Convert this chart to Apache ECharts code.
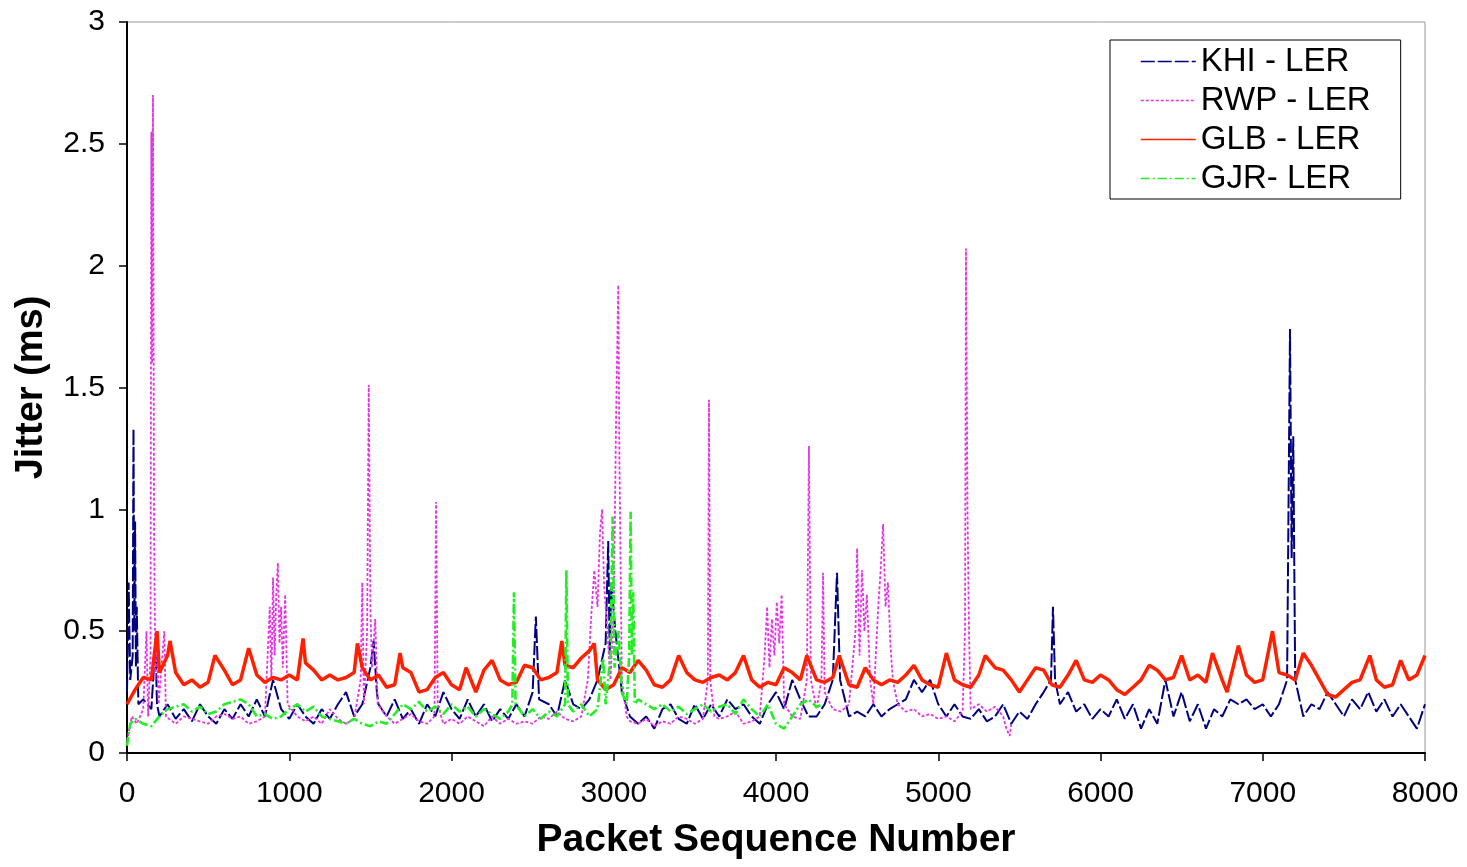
<!DOCTYPE html>
<html>
<head>
<meta charset="utf-8">
<title>Jitter</title>
<script src="https://cdn.jsdelivr.net/npm/echarts@6/dist/echarts.min.js"></script>
<style>
  html, body { margin: 0; padding: 0; background: #fff; }
  #chart { width: 1467px; height: 867px; }
</style>
</head>
<body>
<div id="chart"></div>
<script>
// [packet sequence number, jitter ms]
const khiData = [
  [0,0.25],[10,0.7],[20,0.3],[35,0.4],[40,1.33],[45,0.5],[50,0.95],[55,0.35],[60,0.6],[70,0.2],
  [100,0.22],[150,0.18],[175,0.45],[185,0.2],[200,0.15],[250,0.2],[300,0.14],[350,0.18],[400,0.13],
  [450,0.2],[500,0.15],[550,0.12],[600,0.18],[650,0.14],[700,0.2],[750,0.15],[800,0.22],[850,0.15],
  [900,0.3],[950,0.18],[1000,0.14],[1050,0.2],[1100,0.15],[1150,0.12],[1200,0.18],[1250,0.14],
  [1300,0.2],[1350,0.25],[1400,0.15],[1450,0.2],[1500,0.35],[1520,0.46],[1540,0.25],[1550,0.2],
  [1600,0.15],[1650,0.22],[1700,0.14],[1750,0.18],[1800,0.12],[1850,0.2],[1900,0.15],[1950,0.25],
  [2000,0.18],[2050,0.14],[2100,0.22],[2150,0.15],[2200,0.2],[2250,0.13],[2300,0.18],[2350,0.14],
  [2400,0.2],[2450,0.15],[2500,0.25],[2520,0.56],[2540,0.22],[2600,0.2],[2650,0.15],[2700,0.3],
  [2750,0.2],[2800,0.18],[2850,0.22],[2900,0.3],[2950,0.45],[2966,0.87],[2975,0.4],[2985,0.7],
  [3010,0.5],[3050,0.25],[3100,0.15],[3150,0.12],[3200,0.15],[3250,0.1],[3300,0.18],[3350,0.2],
  [3400,0.14],[3450,0.12],[3500,0.2],[3550,0.14],[3600,0.2],[3650,0.15],[3700,0.22],[3750,0.18],
  [3800,0.2],[3850,0.15],[3900,0.12],[3950,0.2],[4000,0.25],[4050,0.18],[4100,0.3],[4150,0.22],
  [4200,0.15],[4250,0.15],[4300,0.2],[4350,0.3],[4376,0.74],[4395,0.3],[4450,0.15],[4500,0.17],
  [4550,0.15],[4600,0.2],[4650,0.15],[4700,0.18],[4750,0.2],[4800,0.22],[4850,0.3],[4900,0.25],
  [4950,0.3],[5000,0.2],[5050,0.15],[5100,0.2],[5150,0.15],[5200,0.14],[5250,0.18],[5300,0.13],
  [5350,0.15],[5400,0.2],[5450,0.12],[5500,0.17],[5550,0.14],[5600,0.2],[5650,0.25],[5695,0.3],
  [5707,0.6],[5720,0.3],[5750,0.2],[5800,0.25],[5850,0.17],[5900,0.2],[5950,0.14],[6000,0.18],
  [6050,0.15],[6100,0.22],[6150,0.14],[6200,0.2],[6250,0.1],[6300,0.18],[6350,0.12],[6400,0.3],
  [6450,0.15],[6500,0.25],[6550,0.13],[6600,0.2],[6650,0.1],[6700,0.18],[6750,0.15],[6800,0.22],
  [6850,0.2],[6900,0.22],[6950,0.18],[7000,0.2],[7050,0.15],[7100,0.2],[7150,0.3],[7168,1.74],
  [7178,0.8],[7188,1.3],[7200,0.3],[7250,0.15],[7300,0.2],[7350,0.18],[7400,0.25],[7450,0.2],
  [7500,0.15],[7550,0.22],[7600,0.18],[7650,0.25],[7700,0.17],[7750,0.22],[7800,0.15],[7850,0.2],
  [7900,0.15],[7950,0.1],[8000,0.2]
];

const rwpData = [
  [0,0.05],[30,0.15],[60,0.12],[100,0.18],[120,0.5],[130,0.15],[145,0.4],[150,2.55],[155,1.6],
  [160,2.7],[167,0.9],[175,0.3],[185,0.5],[195,0.2],[230,0.5],[240,0.15],[300,0.12],[350,0.15],
  [400,0.14],[450,0.13],[500,0.12],[550,0.15],[600,0.16],[650,0.14],[700,0.15],[750,0.12],
  [800,0.13],[850,0.15],[880,0.6],[890,0.3],[900,0.72],[910,0.4],[920,0.65],[930,0.78],[940,0.45],
  [950,0.6],[960,0.35],[975,0.65],[990,0.2],[1050,0.15],[1100,0.13],[1150,0.15],[1200,0.12],
  [1250,0.18],[1300,0.14],[1350,0.12],[1400,0.14],[1440,0.3],[1450,0.7],[1460,0.2],[1480,0.5],
  [1490,1.51],[1500,0.6],[1510,0.35],[1530,0.55],[1545,0.2],[1600,0.15],[1650,0.12],[1700,0.14],
  [1750,0.16],[1800,0.13],[1850,0.12],[1895,0.15],[1905,1.03],[1915,0.2],[1950,0.12],[2000,0.14],
  [2050,0.12],[2100,0.15],[2150,0.13],[2200,0.11],[2250,0.15],[2300,0.12],[2350,0.14],[2400,0.12],
  [2450,0.13],[2500,0.12],[2550,0.15],[2600,0.14],[2650,0.17],[2700,0.14],[2750,0.13],[2800,0.15],
  [2840,0.3],[2860,0.55],[2880,0.75],[2900,0.6],[2915,0.9],[2928,1.0],[2940,0.7],[2960,0.5],
  [2980,0.3],[3000,0.6],[3015,1.4],[3028,1.92],[3035,1.2],[3050,0.3],[3080,0.15],[3100,0.13],
  [3150,0.12],[3200,0.14],[3250,0.11],[3300,0.13],[3350,0.12],[3400,0.15],[3450,0.14],[3500,0.12],
  [3550,0.14],[3580,0.3],[3587,1.45],[3595,0.3],[3620,0.15],[3650,0.14],[3700,0.15],[3750,0.17],
  [3800,0.12],[3850,0.13],[3900,0.15],[3930,0.4],[3945,0.6],[3960,0.35],[3975,0.55],[3990,0.4],
  [4005,0.62],[4020,0.45],[4035,0.65],[4050,0.2],[4100,0.15],[4150,0.14],[4190,0.3],[4203,1.26],
  [4215,0.3],[4250,0.18],[4280,0.3],[4290,0.74],[4300,0.25],[4350,0.18],[4400,0.17],[4450,0.2],
  [4490,0.5],[4500,0.84],[4515,0.4],[4530,0.75],[4545,0.5],[4560,0.65],[4580,0.3],[4600,0.2],
  [4630,0.6],[4645,0.75],[4660,0.94],[4675,0.6],[4690,0.7],[4705,0.45],[4720,0.3],[4750,0.2],
  [4800,0.17],[4850,0.18],[4900,0.15],[4950,0.16],[5000,0.14],[5050,0.15],[5100,0.13],[5150,0.17],
  [5165,0.5],[5171,2.07],[5180,1.0],[5190,0.48],[5200,0.18],[5250,0.2],[5300,0.17],[5350,0.19],
  [5400,0.15],[5420,0.1],[5440,0.07],[5450,0.12]
];

const glbData = [
  [0,0.2],[50,0.26],[100,0.31],[150,0.3],[185,0.5],[200,0.33],[250,0.4],[265,0.46],[300,0.33],
  [350,0.28],[400,0.3],[450,0.27],[500,0.29],[542,0.4],[600,0.34],[650,0.28],[700,0.3],[750,0.43],
  [800,0.32],[850,0.29],[900,0.31],[950,0.3],[1000,0.32],[1050,0.3],[1085,0.47],[1100,0.37],
  [1150,0.34],[1200,0.3],[1250,0.32],[1300,0.3],[1350,0.31],[1400,0.33],[1420,0.45],[1450,0.35],
  [1500,0.3],[1550,0.32],[1600,0.27],[1650,0.28],[1683,0.41],[1700,0.35],[1750,0.33],[1800,0.25],
  [1850,0.26],[1900,0.31],[1950,0.33],[2000,0.28],[2050,0.26],[2090,0.35],[2150,0.25],[2200,0.34],
  [2250,0.38],[2300,0.3],[2350,0.28],[2400,0.29],[2450,0.36],[2500,0.35],[2550,0.3],[2600,0.31],
  [2650,0.33],[2680,0.46],[2700,0.36],[2750,0.35],[2800,0.39],[2850,0.42],[2880,0.45],[2900,0.3],
  [2950,0.26],[3000,0.28],[3050,0.35],[3100,0.33],[3150,0.38],[3200,0.34],[3250,0.28],[3300,0.27],
  [3350,0.3],[3400,0.4],[3450,0.33],[3500,0.3],[3550,0.29],[3600,0.31],[3650,0.32],[3700,0.3],
  [3750,0.33],[3800,0.4],[3850,0.3],[3900,0.27],[3950,0.29],[4000,0.28],[4050,0.35],[4100,0.33],
  [4150,0.3],[4190,0.4],[4250,0.3],[4300,0.29],[4350,0.31],[4390,0.4],[4450,0.28],[4500,0.27],
  [4550,0.35],[4600,0.3],[4650,0.28],[4700,0.3],[4750,0.29],[4800,0.32],[4850,0.36],[4900,0.3],
  [4950,0.28],[5000,0.27],[5050,0.41],[5100,0.3],[5150,0.28],[5200,0.27],[5250,0.32],[5290,0.4],
  [5350,0.35],[5400,0.34],[5450,0.3],[5500,0.25],[5550,0.3],[5600,0.35],[5650,0.34],[5700,0.28],
  [5750,0.27],[5800,0.32],[5850,0.38],[5900,0.3],[5950,0.29],[6000,0.32],[6050,0.3],[6100,0.26],
  [6150,0.24],[6200,0.27],[6250,0.3],[6300,0.36],[6350,0.34],[6400,0.3],[6450,0.31],[6500,0.4],
  [6550,0.3],[6600,0.32],[6650,0.29],[6690,0.41],[6750,0.3],[6780,0.25],[6850,0.44],[6900,0.32],
  [6950,0.29],[7000,0.3],[7060,0.5],[7100,0.33],[7150,0.32],[7200,0.3],[7250,0.41],[7300,0.36],
  [7350,0.3],[7400,0.24],[7450,0.23],[7500,0.26],[7550,0.29],[7600,0.3],[7660,0.4],[7700,0.3],
  [7750,0.27],[7800,0.28],[7850,0.38],[7900,0.3],[7950,0.32],[8000,0.4]
];

const gjrData = [
  [0,0.03],[20,0.12],[50,0.14],[100,0.12],[150,0.11],[200,0.15],[250,0.18],[300,0.19],[350,0.2],
  [400,0.17],[450,0.19],[500,0.16],[550,0.17],[600,0.2],[650,0.21],[700,0.22],[750,0.2],[800,0.15],
  [850,0.16],[900,0.14],[950,0.15],[1000,0.18],[1050,0.2],[1100,0.17],[1150,0.19],[1200,0.15],
  [1250,0.14],[1300,0.13],[1350,0.12],[1400,0.14],[1450,0.12],[1500,0.11],[1550,0.13],[1600,0.12],
  [1650,0.16],[1700,0.2],[1750,0.18],[1800,0.21],[1850,0.17],[1900,0.19],[1950,0.16],[2000,0.2],
  [2050,0.17],[2100,0.19],[2150,0.15],[2200,0.18],[2250,0.16],[2300,0.14],[2350,0.17],[2375,0.2],
  [2385,0.66],[2395,0.2],[2450,0.15],[2500,0.18],[2550,0.14],[2600,0.17],[2650,0.15],[2700,0.2],
  [2708,0.75],[2718,0.2],[2750,0.17],[2800,0.2],[2850,0.15],[2900,0.18],[2935,0.39],[2950,0.2],
  [2980,0.4],[2993,0.97],[3005,0.35],[3030,0.5],[3050,0.25],[3080,0.2],[3095,0.4],[3104,0.99],
  [3112,0.4],[3120,0.66],[3130,0.2],[3150,0.22],[3200,0.2],[3250,0.18],[3300,0.2],[3350,0.17],
  [3400,0.19],[3450,0.16],[3500,0.18],[3550,0.2],[3600,0.17],[3650,0.19],[3700,0.2],[3750,0.16],
  [3800,0.22],[3850,0.18],[3900,0.15],[3950,0.2],[4000,0.12],[4050,0.1],[4100,0.15],[4150,0.2],
  [4200,0.22],[4250,0.19],[4290,0.2]
];

const seriesNames = ['KHI - LER', 'RWP - LER', 'GLB - LER', 'GJR- LER'];

const chart = echarts.init(document.getElementById('chart'));

const font = '"Liberation Sans", Arial, sans-serif';

function line(name, data, color, width, dash) {
  return {
    name: name,
    type: 'line',
    data: data,
    symbol: 'none',
    animation: false,
    lineStyle: { color: color, width: width, type: dash },
    itemStyle: { color: color }
  };
}

chart.setOption({
  backgroundColor: '#fff',
  animation: false,
  grid: {
    left: 127, right: 42, top: 22, bottom: 114,
    show: true, borderColor: '#999', borderWidth: 1
  },
  legend: {
    data: seriesNames,
    orient: 'vertical',
    left: 1110,
    top: 40,
    itemWidth: 55,
    itemHeight: 14,
    itemGap: 6,
    padding: [5, 30, 4, 30],
    borderColor: '#000',
    borderWidth: 1,
    backgroundColor: '#fff',
    itemStyle: { opacity: 0 },
    lineStyle: { width: 1.5 },
    textStyle: { fontFamily: font, fontSize: 33, color: '#000' }
  },
  xAxis: {
    type: 'value',
    min: 0,
    max: 8000,
    interval: 1000,
    name: 'Packet Sequence Number',
    nameLocation: 'middle',
    nameGap: 68,
    nameTextStyle: { fontFamily: font, fontSize: 39, fontWeight: 'bold', color: '#000' },
    axisLine: { show: true, lineStyle: { color: '#000', width: 2 } },
    axisTick: { show: true, inside: false, length: 8, lineStyle: { color: '#000', width: 1.5 } },
    axisLabel: {
      fontFamily: font, fontSize: 30, color: '#000', margin: 26,
      formatter: function (v) { return String(v); }
    },
    splitLine: { show: false }
  },
  yAxis: {
    type: 'value',
    min: 0,
    max: 3,
    interval: 0.5,
    name: 'Jitter (ms)',
    nameLocation: 'middle',
    nameGap: 76,
    nameRotate: 90,
    nameTextStyle: { fontFamily: font, fontSize: 38, fontWeight: 'bold', color: '#000' },
    axisLine: { show: true, lineStyle: { color: '#000', width: 2 } },
    axisTick: { show: true, inside: false, length: 8, lineStyle: { color: '#000', width: 1.5 } },
    axisLabel: { fontFamily: font, fontSize: 30, color: '#000', margin: 22 },
    splitLine: { show: false }
  },
  series: [
    line(seriesNames[0], khiData, '#000080', 2, [14, 3]),
    line(seriesNames[1], rwpData, '#e633e6', 1.8, [3, 2]),
    line(seriesNames[2], glbData, '#ff2000', 3.5, 'solid'),
    line(seriesNames[3], gjrData, '#22ee22', 2.6, [9, 3, 2, 3])
  ]
});
</script>
</body>
</html>
